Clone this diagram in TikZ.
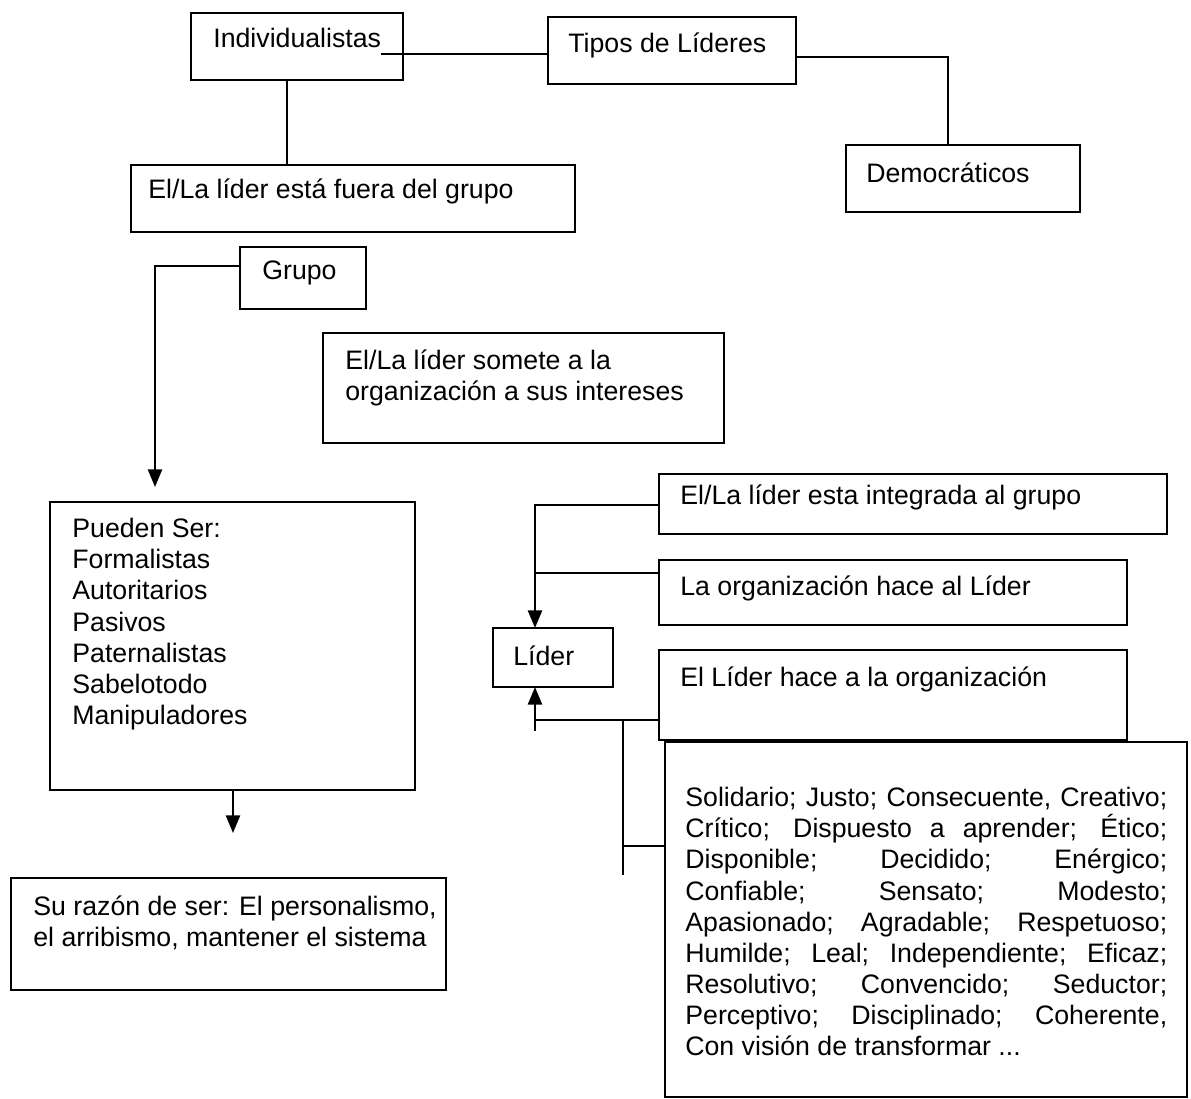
\documentclass[tikz,border=0pt]{standalone}
\usepackage{fontspec}
\setmainfont{Liberation Sans}
\usetikzlibrary{arrows.meta}
\newlength\pxu
\setlength\pxu{0.02cm}
\newcommand\pbx[5]{\node[bx, minimum width=#4\pxu, minimum height=#5\pxu] (#1) at (#2,#3) {};}
\begin{document}
\begin{tikzpicture}[x=0.02cm,y=-0.02cm,
  bx/.style={draw, line width=1.2pt, anchor=north west, inner sep=0pt, outer sep=0pt},
  tx/.style={anchor=base west, inner sep=0pt, font=\fontsize{15.2}{17.7}\selectfont},
  mtx/.style={anchor=north west, inner sep=0pt, align=left, font=\fontsize{15.2}{17.7}\selectfont},
  con/.style={line width=1.2pt},
  arr/.style={con, -{Triangle[length=10pt,width=8pt]}}]
\useasboundingbox (0,0) rectangle (1191,1099);
\fill[white] (0,0) rectangle (1191,1099);
% boxes
\pbx{indiv}{191}{13}{212}{67}
\pbx{tipos}{548}{17}{248}{67}
\pbx{demo}{846}{145}{234}{67}
\pbx{fuera}{131}{165}{444}{67}
\pbx{grupo}{240}{247}{126}{62}
\pbx{somete}{323}{333}{401}{110}
\pbx{pueden}{50}{502}{365}{288}
\pbx{razon}{11}{878}{435}{112}
\pbx{integ}{659}{474}{508}{60}
\pbx{orgl}{659}{560}{468}{65}
\pbx{lido}{659}{650}{468}{90}
\pbx{lider}{493}{628}{120}{59}
\pbx{big}{665}{742}{522}{355}
% texts
\node[tx] (indivT) at (213,47) {Individualistas};
\node[tx] (tiposT) at (568,52) {Tipos de Líderes};
\node[tx] (demoT) at (866,182) {Democráticos};
\node[tx] (fueraT) at (148,198) {El/La líder está fuera del grupo};
\node[tx] (grupoT) at (262,279) {Grupo};
\node[mtx] (someteT) at (345,349) {El/La líder somete a la\\organización a sus intereses};
\node[mtx] (puedenT) at (72,518) {Pueden Ser:\\Formalistas\\Autoritarios\\Pasivos\\Paternalistas\\Sabelotodo\\Manipuladores};
\node[mtx] (razonT) at (33,895) {Su razón de ser: El personalismo,\\el arribismo, mantener el sistema};
\node[tx] (integT) at (680,504) {El/La líder esta integrada al grupo};
\node[tx] (orglT) at (680,595) {La organización hace al Líder};
\node[tx] (lidoT) at (680,686) {El Líder hace a la organización};
\node[tx] (liderT) at (513,665) {Líder};
\node[mtx] (bigT) at (685,787) {%
\makebox[9.64cm][s]{Solidario; Justo; Consecuente, Creativo;}\\
\makebox[9.64cm][s]{Crítico; Dispuesto a aprender; Ético;}\\
\makebox[9.64cm][s]{Disponible; Decidido; Enérgico;}\\
\makebox[9.64cm][s]{Confiable; Sensato; Modesto;}\\
\makebox[9.64cm][s]{Apasionado; Agradable; Respetuoso;}\\
\makebox[9.64cm][s]{Humilde; Leal; Independiente; Eficaz;}\\
\makebox[9.64cm][s]{Resolutivo; Convencido; Seductor;}\\
\makebox[9.64cm][s]{Perceptivo; Disciplinado; Coherente,}\\
Con visión de transformar ...};
% connectors
\coordinate (c1) at (381,54);
\draw[con] (c1) -- (c1 -| tipos.west);
\coordinate (c2) at (948,57);
\draw[con] (c2 -| tipos.east) -- (c2) -- (c2 |- demo.north);
\coordinate (c3) at (287,0);
\draw[con] (c3 |- indiv.south) -- (c3 |- fuera.north);
\coordinate (c4) at (155,266);
\coordinate (a1) at (155,487);
\draw[arr] (c4 -| grupo.west) -- (c4) -- (a1);
\coordinate (c5) at (233,0);
\coordinate (a2) at (233,833);
\draw[arr] (c5 |- pueden.south) -- (a2);
\coordinate (c6) at (535,505);
\draw[arr] (c6 -| integ.west) -- (c6) -- (c6 |- lider.north);
\coordinate (c7) at (535,573);
\draw[con] (c7 -| orgl.west) -- (c7);
\coordinate (c8) at (535,720);
\coordinate (c9) at (535,731);
\draw[con] (c9) -- (c8);
\draw[arr] (c8 -| lido.west) -- (c8) -- (c8 |- lider.south);
\coordinate (c10) at (623,720);
\coordinate (c11) at (623,875);
\draw[con] (c10) -- (c11);
\coordinate (c12) at (623,846);
\draw[con] (c12) -- (c12 -| big.west);
\end{tikzpicture}
\end{document}
